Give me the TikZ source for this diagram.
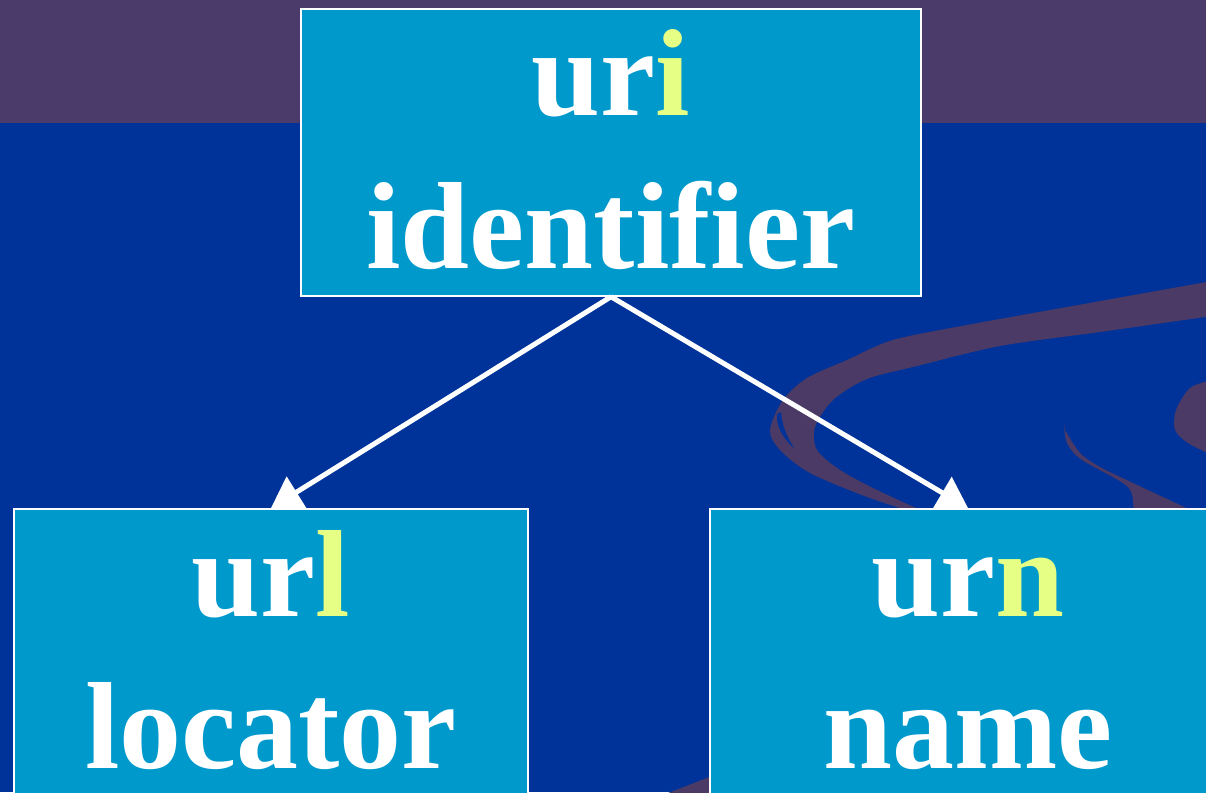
\documentclass[tikz,border=0pt]{standalone}
\usepackage{fontspec}
\setmainfont{Liberation Serif}
\usepackage{tikz}
\usetikzlibrary{arrows.meta}

\definecolor{slideblue}{HTML}{003399}
\definecolor{slidetop}{HTML}{4B3B6B}
\definecolor{swirl}{HTML}{4A3A65}
\definecolor{boxcyan}{HTML}{0099CC}
\definecolor{lime}{HTML}{E6FF85}
\newcommand{\hl}[1]{\textcolor{lime}{#1}}

\begin{document}
\begin{tikzpicture}[x=1pt, y=-1pt, box/.style = {draw=white, line width=1.5pt, fill=boxcyan, inner sep=0pt}, word/.style = {text=white, font=\fontsize{124}{150}\selectfont\bfseries, anchor=base, inner sep=0pt}, link/.style = {draw=white, line width=5pt, -{Triangle[length=30pt,width=36pt]}}]
	\useasboundingbox (0,0) rectangle (1206,792);
	\clip (0,0) rectangle (1206,792);
	\fill[slideblue] (0,0) rectangle (1206,792);
	\fill[slidetop] (0,0) rectangle (1206,123);
	\fill[swirl] plot[smooth] coordinates {(1212,281) (1067,307) (967,325) (893,340) (847,360) (807,378) (783,400) (770,430) (780,450) (810,473) (867,497) (913,512)} -- plot[smooth] coordinates {(925,512) (877,490) (840,470) (817,450) (815,427) (833,400) (867,379) (917,366) (1000,346) (1100,332) (1212,316)} -- cycle;
	\fill[slideblue] (777,414) .. controls (776,425) and (782,438) .. (794,448) .. controls (786,435) and (782,425) .. (781,412) -- cycle;
	\fill[swirl] plot[smooth] coordinates {(1064,423) (1067,443) (1082,460) (1128,487) (1133,512)} -- plot[smooth] coordinates {(1195,512) (1133,483) (1100,467) (1080,453) (1065,430)} -- cycle;
	\fill[swirl] plot[smooth] coordinates {(1212,380) (1190,388) (1176,410) (1175,430) (1188,443) (1212,455)} -- cycle;
	\fill[swirl] (650,800) -- (712,776) -- (712,800) -- cycle;
	\node[box, minimum width=620pt, minimum height=287pt] (uri) at (611,152.5) {};
	\node[box, minimum width=514pt, minimum height=320pt, anchor=north] (url) at (271,508) {};
	\node[box, minimum width=516pt, minimum height=320pt, anchor=north] (urn) at (968,508) {};
	\node[word] (uri-abbr) at (611,115) {ur\hl{i}};
	\node[word] (uri-long) at (611,268) {identifier};
	\node[word] (url-abbr) at (271,616) {ur\hl{l}};
	\node[word] (url-long) at (271,768) {locator};
	\node[word] (urn-abbr) at (968,616) {ur\hl{n}};
	\node[word] (urn-long) at (968,768) {name};
	\draw[link] (uri.south) -- (url.north);
	\draw[link] (uri.south) -- (urn.north);
\end{tikzpicture}
\end{document}
